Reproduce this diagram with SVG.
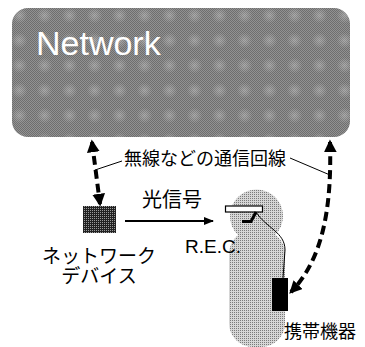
<svg xmlns="http://www.w3.org/2000/svg" width="365" height="347" viewBox="0 0 365 347">
  <style>
    .jp { font-family: "Noto Sans CJK JP", "Noto Sans", sans-serif; fill: #000; }
    .en { font-family: "Liberation Sans", Arial, sans-serif; fill: #000; }
    .thin { fill: none; stroke: #000; stroke-width: 1; }
    .dash { fill: none; stroke: #000; stroke-width: 4; stroke-dasharray: 9 5; }
  </style>
  <defs>
    <!-- dithered mid-grey for the network cloud -->
    <pattern id="checker" width="2" height="2" patternUnits="userSpaceOnUse">
      <rect width="2" height="2" fill="#929292"/>
      <rect width="1" height="1" fill="#6e6e6e"/>
      <rect x="1" y="1" width="1" height="1" fill="#6e6e6e"/>
    </pattern>
    <radialGradient id="spotGrad">
      <stop offset="0" stop-color="#fff" stop-opacity="0.25"/>
      <stop offset="1" stop-color="#fff" stop-opacity="0"/>
    </radialGradient>
    <pattern id="spots" width="25" height="25" patternUnits="userSpaceOnUse" x="7" y="3">
      <circle cx="12.5" cy="12.5" r="8" fill="url(#spotGrad)"/>
    </pattern>
    <!-- dark dither for the network device -->
    <pattern id="darkDots" width="2" height="2" patternUnits="userSpaceOnUse">
      <rect width="2" height="2" fill="#222"/>
      <rect width="1" height="1" fill="#9a9a9a"/>
    </pattern>
    <!-- light dither for the wearer -->
    <pattern id="lightDots" width="2" height="2" patternUnits="userSpaceOnUse">
      <rect width="2" height="2" fill="#d6d6d6"/>
      <rect width="1" height="1" fill="#7a7a7a"/>
    </pattern>
    <marker id="head" viewBox="0 0 10 10" refX="8" refY="5" markerWidth="3.2" markerHeight="3.2" orient="auto-start-reverse" markerUnits="strokeWidth">
      <path d="M0,0 L10,5 L0,10 z" fill="#000"/>
    </marker>
    <marker id="headThin" viewBox="0 0 10 10" refX="9" refY="5" markerWidth="5" markerHeight="5" orient="auto" markerUnits="strokeWidth">
      <path d="M0,1 L10,5 L0,9 z" fill="#000"/>
    </marker>
  </defs>

  <!-- network cloud -->
  <g id="network">
    <rect x="12" y="8" width="338" height="129" rx="16" fill="url(#checker)"/>
    <rect x="12" y="8" width="338" height="129" rx="16" fill="url(#spots)"/>
    <text x="36" y="55" class="en" font-size="34" style="fill:#fff">Network</text>
  </g>

  <!-- network device -->
  <g id="device">
    <rect x="83" y="206" width="33" height="27" fill="url(#darkDots)"/>
    <text x="99" y="263" class="jp" font-size="19" text-anchor="middle">ネットワーク</text>
    <text x="99" y="283" class="jp" font-size="19" text-anchor="middle">デバイス</text>
  </g>

  <!-- wearer with R.E.C. and handheld terminal -->
  <g id="wearer">
    <rect x="229" y="230" width="56" height="117" rx="24" fill="url(#lightDots)"/>
    <circle cx="256.5" cy="216" r="26.5" fill="url(#lightDots)"/>
    <rect x="225.5" y="206" width="37" height="6" fill="#fff" stroke="#000" stroke-width="1.2"/>
    <path d="M242,221.5 L251,221.5 L256,212" fill="none" stroke="#000" stroke-width="3"/>
    <path d="M256,212 C266,228 285,232 285,250 L283,278" class="thin" stroke-width="1.3"/>
    <rect x="272" y="278" width="16" height="33" fill="#000"/>
    <text x="185" y="253" class="en" font-size="19">R.E.C.</text>
  </g>
  <g id="handset-label">
    <text x="284" y="338" class="jp" font-size="18">携帯機器</text>
  </g>

  <!-- links -->
  <g id="connectors">
    <path d="M92,142 L100,204" class="dash" marker-start="url(#head)" marker-end="url(#head)"/>
    <path d="M330,142 C332,210 322,260 291,292" class="dash" marker-start="url(#head)" marker-end="url(#head)"/>
    <path d="M125,221 L213,221" stroke="#000" stroke-width="2" fill="none" marker-end="url(#headThin)"/>
    <path d="M95,170 L122,161" class="thin"/>
    <path d="M290,158 L330,175" class="thin"/>
  </g>

  <g id="labels">
    <text x="124" y="165" class="jp" font-size="18">無線などの通信回線</text>
    <text x="142" y="207" class="jp" font-size="20">光信号</text>
  </g>
</svg>
